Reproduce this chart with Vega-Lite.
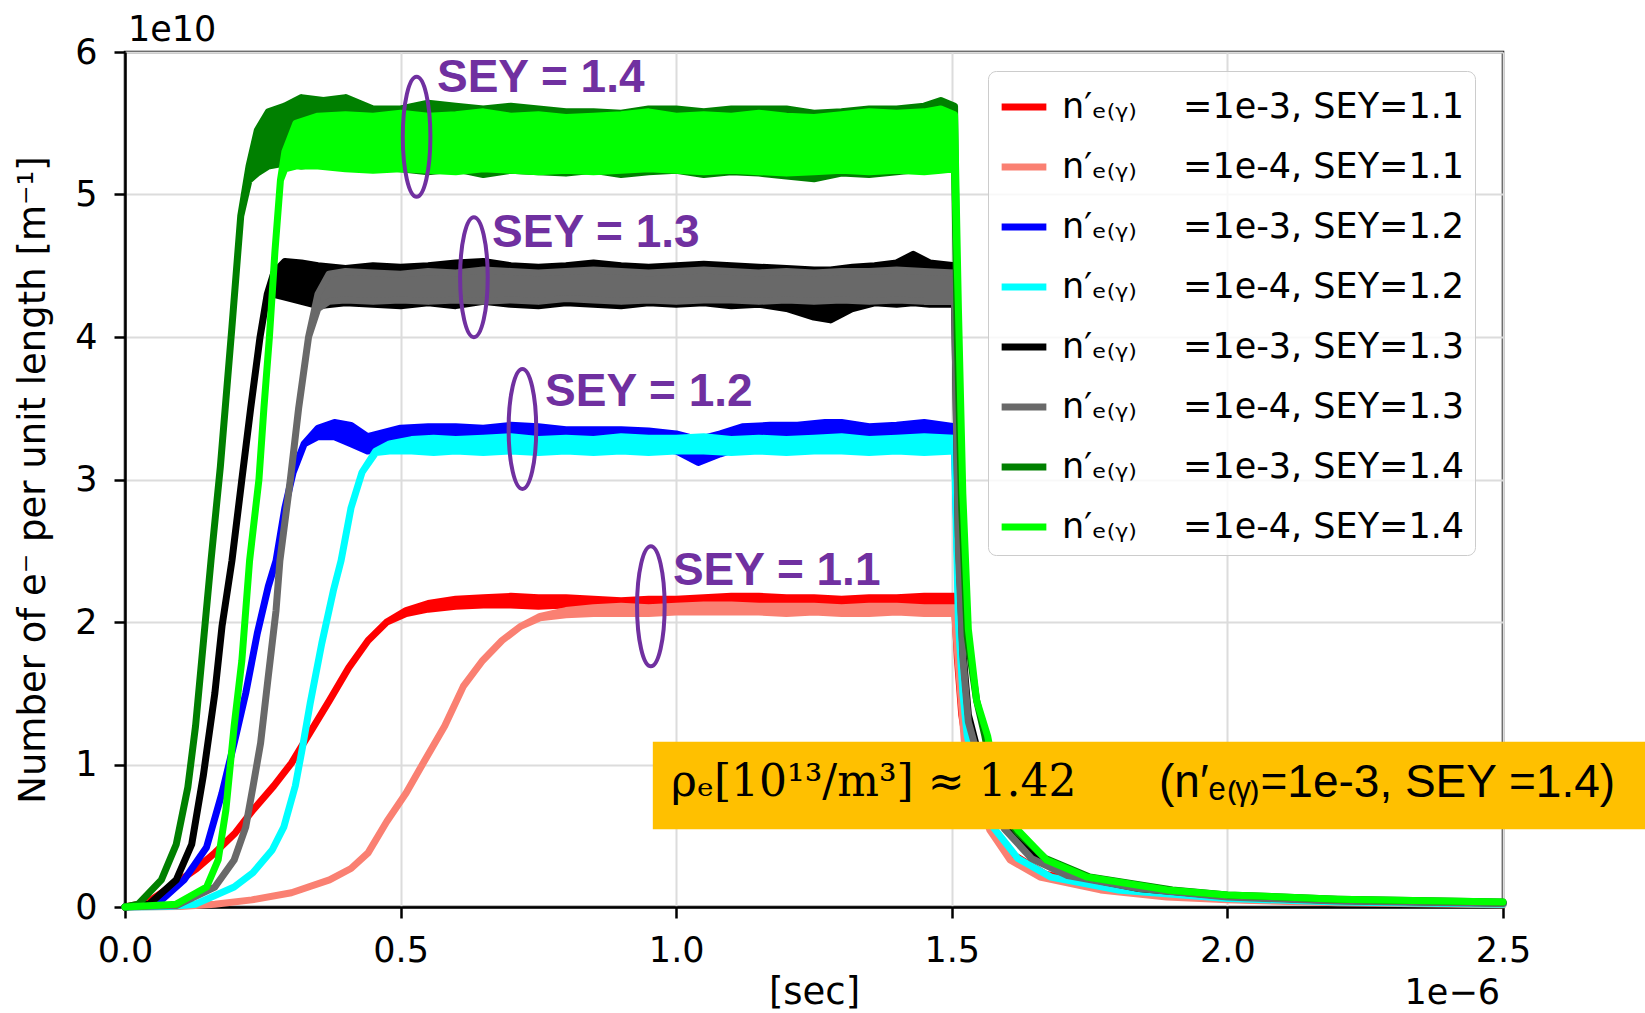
{
  "$schema": "https://vega.github.io/schema/vega-lite/v6.json",
  "autosize": {"type": "none"},
  "width": 1378,
  "height": 855,
  "padding": {"left": 125, "top": 52, "right": 142, "bottom": 106},
  "background": "white",
  "config": {
    "view": {"stroke": "black", "strokeWidth": 2.5},
    "axis": {
      "labelFont": "DejaVu Sans", "labelFontSize": 35, "labelColor": "black",
      "titleFont": "DejaVu Sans", "titleFontSize": 37, "titleFontWeight": "normal", "titleColor": "black",
      "domainColor": "black", "domainWidth": 2.5, "tickColor": "black", "tickWidth": 2.5, "tickSize": 11,
      "gridColor": "#dcdcdc", "gridWidth": 2
    }
  },
  "datasets": {
    "curves": [
      {"s":"1e-3, SEY=1.1","t":0,"lo":0,"hi":0},{"s":"1e-3, SEY=1.1","t":0.04,"lo":0.03,"hi":0.03},{"s":"1e-3, SEY=1.1","t":0.093,"lo":0.17,"hi":0.17},{"s":"1e-3, SEY=1.1","t":0.13,"lo":0.27,"hi":0.27},{"s":"1e-3, SEY=1.1","t":0.163,"lo":0.38,"hi":0.38},{"s":"1e-3, SEY=1.1","t":0.2,"lo":0.52,"hi":0.52},{"s":"1e-3, SEY=1.1","t":0.232,"lo":0.68,"hi":0.68},{"s":"1e-3, SEY=1.1","t":0.27,"lo":0.85,"hi":0.85},{"s":"1e-3, SEY=1.1","t":0.302,"lo":1.01,"hi":1.01},{"s":"1e-3, SEY=1.1","t":0.335,"lo":1.22,"hi":1.22},{"s":"1e-3, SEY=1.1","t":0.371,"lo":1.45,"hi":1.45},{"s":"1e-3, SEY=1.1","t":0.406,"lo":1.68,"hi":1.68},{"s":"1e-3, SEY=1.1","t":0.441,"lo":1.87,"hi":1.87},{"s":"1e-3, SEY=1.1","t":0.475,"lo":2.0,"hi":2.0},{"s":"1e-3, SEY=1.1","t":0.51,"lo":2.06,"hi":2.08},{"s":"1e-3, SEY=1.1","t":0.55,"lo":2.09,"hi":2.13},{"s":"1e-3, SEY=1.1","t":0.6,"lo":2.11,"hi":2.16},{"s":"1e-3, SEY=1.1","t":0.65,"lo":2.12,"hi":2.17},{"s":"1e-3, SEY=1.1","t":0.7,"lo":2.12,"hi":2.18},{"s":"1e-3, SEY=1.1","t":0.75,"lo":2.11,"hi":2.17},{"s":"1e-3, SEY=1.1","t":0.8,"lo":2.12,"hi":2.17},{"s":"1e-3, SEY=1.1","t":0.85,"lo":2.11,"hi":2.16},{"s":"1e-3, SEY=1.1","t":0.9,"lo":2.1,"hi":2.15},{"s":"1e-3, SEY=1.1","t":0.95,"lo":2.1,"hi":2.16},{"s":"1e-3, SEY=1.1","t":1.0,"lo":2.11,"hi":2.16},{"s":"1e-3, SEY=1.1","t":1.05,"lo":2.12,"hi":2.17},{"s":"1e-3, SEY=1.1","t":1.1,"lo":2.12,"hi":2.18},{"s":"1e-3, SEY=1.1","t":1.15,"lo":2.13,"hi":2.18},{"s":"1e-3, SEY=1.1","t":1.2,"lo":2.12,"hi":2.17},{"s":"1e-3, SEY=1.1","t":1.25,"lo":2.12,"hi":2.17},{"s":"1e-3, SEY=1.1","t":1.3,"lo":2.11,"hi":2.16},{"s":"1e-3, SEY=1.1","t":1.35,"lo":2.12,"hi":2.17},{"s":"1e-3, SEY=1.1","t":1.4,"lo":2.11,"hi":2.17},{"s":"1e-3, SEY=1.1","t":1.45,"lo":2.12,"hi":2.18},{"s":"1e-3, SEY=1.1","t":1.505,"lo":2.13,"hi":2.18},{"s":"1e-3, SEY=1.1","t":1.51,"lo":1.75,"hi":1.75},{"s":"1e-3, SEY=1.1","t":1.518,"lo":1.35,"hi":1.35},{"s":"1e-3, SEY=1.1","t":1.53,"lo":1.05,"hi":1.05},{"s":"1e-3, SEY=1.1","t":1.55,"lo":0.8,"hi":0.8},{"s":"1e-3, SEY=1.1","t":1.575,"lo":0.55,"hi":0.55},{"s":"1e-3, SEY=1.1","t":1.61,"lo":0.37,"hi":0.37},{"s":"1e-3, SEY=1.1","t":1.67,"lo":0.23,"hi":0.23},{"s":"1e-3, SEY=1.1","t":1.78,"lo":0.13,"hi":0.13},{"s":"1e-3, SEY=1.1","t":1.9,"lo":0.08,"hi":0.08},{"s":"1e-3, SEY=1.1","t":2.0,"lo":0.055,"hi":0.055},{"s":"1e-3, SEY=1.1","t":2.2,"lo":0.035,"hi":0.035},{"s":"1e-3, SEY=1.1","t":2.5,"lo":0.02,"hi":0.02},

      {"s":"1e-4, SEY=1.1","t":0,"lo":0,"hi":0},{"s":"1e-4, SEY=1.1","t":0.1,"lo":0.003,"hi":0.003},{"s":"1e-4, SEY=1.1","t":0.163,"lo":0.02,"hi":0.02},{"s":"1e-4, SEY=1.1","t":0.23,"lo":0.05,"hi":0.05},{"s":"1e-4, SEY=1.1","t":0.302,"lo":0.1,"hi":0.1},{"s":"1e-4, SEY=1.1","t":0.371,"lo":0.19,"hi":0.19},{"s":"1e-4, SEY=1.1","t":0.41,"lo":0.27,"hi":0.27},{"s":"1e-4, SEY=1.1","t":0.441,"lo":0.38,"hi":0.38},{"s":"1e-4, SEY=1.1","t":0.475,"lo":0.6,"hi":0.6},{"s":"1e-4, SEY=1.1","t":0.51,"lo":0.8,"hi":0.8},{"s":"1e-4, SEY=1.1","t":0.544,"lo":1.03,"hi":1.03},{"s":"1e-4, SEY=1.1","t":0.58,"lo":1.27,"hi":1.27},{"s":"1e-4, SEY=1.1","t":0.614,"lo":1.55,"hi":1.55},{"s":"1e-4, SEY=1.1","t":0.649,"lo":1.73,"hi":1.73},{"s":"1e-4, SEY=1.1","t":0.684,"lo":1.87,"hi":1.87},{"s":"1e-4, SEY=1.1","t":0.718,"lo":1.97,"hi":1.97},{"s":"1e-4, SEY=1.1","t":0.753,"lo":2.03,"hi":2.04},{"s":"1e-4, SEY=1.1","t":0.8,"lo":2.05,"hi":2.08},{"s":"1e-4, SEY=1.1","t":0.85,"lo":2.06,"hi":2.1},{"s":"1e-4, SEY=1.1","t":0.9,"lo":2.06,"hi":2.11},{"s":"1e-4, SEY=1.1","t":0.95,"lo":2.06,"hi":2.1},{"s":"1e-4, SEY=1.1","t":1.0,"lo":2.07,"hi":2.11},{"s":"1e-4, SEY=1.1","t":1.05,"lo":2.07,"hi":2.12},{"s":"1e-4, SEY=1.1","t":1.1,"lo":2.07,"hi":2.12},{"s":"1e-4, SEY=1.1","t":1.15,"lo":2.07,"hi":2.11},{"s":"1e-4, SEY=1.1","t":1.2,"lo":2.06,"hi":2.11},{"s":"1e-4, SEY=1.1","t":1.25,"lo":2.07,"hi":2.11},{"s":"1e-4, SEY=1.1","t":1.3,"lo":2.06,"hi":2.1},{"s":"1e-4, SEY=1.1","t":1.35,"lo":2.06,"hi":2.11},{"s":"1e-4, SEY=1.1","t":1.4,"lo":2.07,"hi":2.11},{"s":"1e-4, SEY=1.1","t":1.45,"lo":2.06,"hi":2.1},{"s":"1e-4, SEY=1.1","t":1.505,"lo":2.06,"hi":2.1},{"s":"1e-4, SEY=1.1","t":1.512,"lo":1.7,"hi":1.7},{"s":"1e-4, SEY=1.1","t":1.518,"lo":1.4,"hi":1.4},{"s":"1e-4, SEY=1.1","t":1.523,"lo":1.15,"hi":1.15},{"s":"1e-4, SEY=1.1","t":1.54,"lo":0.85,"hi":0.85},{"s":"1e-4, SEY=1.1","t":1.569,"lo":0.54,"hi":0.54},{"s":"1e-4, SEY=1.1","t":1.606,"lo":0.33,"hi":0.33},{"s":"1e-4, SEY=1.1","t":1.66,"lo":0.21,"hi":0.21},{"s":"1e-4, SEY=1.1","t":1.77,"lo":0.12,"hi":0.12},{"s":"1e-4, SEY=1.1","t":1.89,"lo":0.07,"hi":0.07},{"s":"1e-4, SEY=1.1","t":2.0,"lo":0.05,"hi":0.05},{"s":"1e-4, SEY=1.1","t":2.2,"lo":0.03,"hi":0.03},{"s":"1e-4, SEY=1.1","t":2.5,"lo":0.015,"hi":0.015},

      {"s":"1e-3, SEY=1.2","t":0,"lo":0,"hi":0},{"s":"1e-3, SEY=1.2","t":0.058,"lo":0.02,"hi":0.02},{"s":"1e-3, SEY=1.2","t":0.107,"lo":0.19,"hi":0.19},{"s":"1e-3, SEY=1.2","t":0.148,"lo":0.42,"hi":0.42},{"s":"1e-3, SEY=1.2","t":0.176,"lo":0.8,"hi":0.8},{"s":"1e-3, SEY=1.2","t":0.198,"lo":1.15,"hi":1.15},{"s":"1e-3, SEY=1.2","t":0.219,"lo":1.5,"hi":1.5},{"s":"1e-3, SEY=1.2","t":0.24,"lo":1.92,"hi":1.92},{"s":"1e-3, SEY=1.2","t":0.26,"lo":2.25,"hi":2.25},{"s":"1e-3, SEY=1.2","t":0.274,"lo":2.43,"hi":2.43},{"s":"1e-3, SEY=1.2","t":0.29,"lo":2.8,"hi":2.8},{"s":"1e-3, SEY=1.2","t":0.305,"lo":3.05,"hi":3.05},{"s":"1e-3, SEY=1.2","t":0.325,"lo":3.25,"hi":3.25},{"s":"1e-3, SEY=1.2","t":0.35,"lo":3.3,"hi":3.36},{"s":"1e-3, SEY=1.2","t":0.38,"lo":3.3,"hi":3.4},{"s":"1e-3, SEY=1.2","t":0.41,"lo":3.25,"hi":3.38},{"s":"1e-3, SEY=1.2","t":0.44,"lo":3.2,"hi":3.3},{"s":"1e-3, SEY=1.2","t":0.47,"lo":3.22,"hi":3.33},{"s":"1e-3, SEY=1.2","t":0.5,"lo":3.24,"hi":3.36},{"s":"1e-3, SEY=1.2","t":0.55,"lo":3.24,"hi":3.37},{"s":"1e-3, SEY=1.2","t":0.6,"lo":3.25,"hi":3.37},{"s":"1e-3, SEY=1.2","t":0.65,"lo":3.24,"hi":3.36},{"s":"1e-3, SEY=1.2","t":0.7,"lo":3.25,"hi":3.38},{"s":"1e-3, SEY=1.2","t":0.75,"lo":3.24,"hi":3.37},{"s":"1e-3, SEY=1.2","t":0.8,"lo":3.24,"hi":3.35},{"s":"1e-3, SEY=1.2","t":0.85,"lo":3.23,"hi":3.35},{"s":"1e-3, SEY=1.2","t":0.9,"lo":3.24,"hi":3.35},{"s":"1e-3, SEY=1.2","t":0.95,"lo":3.23,"hi":3.34},{"s":"1e-3, SEY=1.2","t":1.0,"lo":3.2,"hi":3.32},{"s":"1e-3, SEY=1.2","t":1.04,"lo":3.12,"hi":3.28},{"s":"1e-3, SEY=1.2","t":1.08,"lo":3.18,"hi":3.32},{"s":"1e-3, SEY=1.2","t":1.12,"lo":3.23,"hi":3.37},{"s":"1e-3, SEY=1.2","t":1.17,"lo":3.24,"hi":3.38},{"s":"1e-3, SEY=1.2","t":1.22,"lo":3.25,"hi":3.38},{"s":"1e-3, SEY=1.2","t":1.27,"lo":3.25,"hi":3.4},{"s":"1e-3, SEY=1.2","t":1.3,"lo":3.25,"hi":3.4},{"s":"1e-3, SEY=1.2","t":1.35,"lo":3.24,"hi":3.37},{"s":"1e-3, SEY=1.2","t":1.4,"lo":3.24,"hi":3.38},{"s":"1e-3, SEY=1.2","t":1.45,"lo":3.25,"hi":3.4},{"s":"1e-3, SEY=1.2","t":1.505,"lo":3.25,"hi":3.37},{"s":"1e-3, SEY=1.2","t":1.512,"lo":2.2,"hi":2.2},{"s":"1e-3, SEY=1.2","t":1.52,"lo":1.6,"hi":1.6},{"s":"1e-3, SEY=1.2","t":1.53,"lo":1.3,"hi":1.3},{"s":"1e-3, SEY=1.2","t":1.55,"lo":1.0,"hi":1.0},{"s":"1e-3, SEY=1.2","t":1.6,"lo":0.54,"hi":0.54},{"s":"1e-3, SEY=1.2","t":1.65,"lo":0.34,"hi":0.34},{"s":"1e-3, SEY=1.2","t":1.72,"lo":0.22,"hi":0.22},{"s":"1e-3, SEY=1.2","t":1.84,"lo":0.13,"hi":0.13},{"s":"1e-3, SEY=1.2","t":2.0,"lo":0.075,"hi":0.075},{"s":"1e-3, SEY=1.2","t":2.2,"lo":0.045,"hi":0.045},{"s":"1e-3, SEY=1.2","t":2.5,"lo":0.028,"hi":0.028},

      {"s":"1e-4, SEY=1.2","t":0,"lo":0,"hi":0},{"s":"1e-4, SEY=1.2","t":0.08,"lo":0.003,"hi":0.003},{"s":"1e-4, SEY=1.2","t":0.128,"lo":0.02,"hi":0.02},{"s":"1e-4, SEY=1.2","t":0.198,"lo":0.14,"hi":0.14},{"s":"1e-4, SEY=1.2","t":0.232,"lo":0.24,"hi":0.24},{"s":"1e-4, SEY=1.2","t":0.267,"lo":0.4,"hi":0.4},{"s":"1e-4, SEY=1.2","t":0.288,"lo":0.56,"hi":0.56},{"s":"1e-4, SEY=1.2","t":0.309,"lo":0.85,"hi":0.85},{"s":"1e-4, SEY=1.2","t":0.322,"lo":1.12,"hi":1.12},{"s":"1e-4, SEY=1.2","t":0.336,"lo":1.43,"hi":1.43},{"s":"1e-4, SEY=1.2","t":0.357,"lo":1.85,"hi":1.85},{"s":"1e-4, SEY=1.2","t":0.378,"lo":2.22,"hi":2.22},{"s":"1e-4, SEY=1.2","t":0.392,"lo":2.43,"hi":2.43},{"s":"1e-4, SEY=1.2","t":0.41,"lo":2.8,"hi":2.8},{"s":"1e-4, SEY=1.2","t":0.43,"lo":3.05,"hi":3.05},{"s":"1e-4, SEY=1.2","t":0.455,"lo":3.19,"hi":3.2},{"s":"1e-4, SEY=1.2","t":0.48,"lo":3.2,"hi":3.25},{"s":"1e-4, SEY=1.2","t":0.52,"lo":3.2,"hi":3.28},{"s":"1e-4, SEY=1.2","t":0.56,"lo":3.19,"hi":3.29},{"s":"1e-4, SEY=1.2","t":0.6,"lo":3.2,"hi":3.28},{"s":"1e-4, SEY=1.2","t":0.65,"lo":3.19,"hi":3.29},{"s":"1e-4, SEY=1.2","t":0.7,"lo":3.2,"hi":3.3},{"s":"1e-4, SEY=1.2","t":0.75,"lo":3.19,"hi":3.28},{"s":"1e-4, SEY=1.2","t":0.8,"lo":3.2,"hi":3.29},{"s":"1e-4, SEY=1.2","t":0.85,"lo":3.19,"hi":3.28},{"s":"1e-4, SEY=1.2","t":0.9,"lo":3.2,"hi":3.3},{"s":"1e-4, SEY=1.2","t":0.95,"lo":3.19,"hi":3.29},{"s":"1e-4, SEY=1.2","t":1.0,"lo":3.2,"hi":3.29},{"s":"1e-4, SEY=1.2","t":1.05,"lo":3.2,"hi":3.3},{"s":"1e-4, SEY=1.2","t":1.1,"lo":3.19,"hi":3.28},{"s":"1e-4, SEY=1.2","t":1.15,"lo":3.2,"hi":3.29},{"s":"1e-4, SEY=1.2","t":1.2,"lo":3.19,"hi":3.28},{"s":"1e-4, SEY=1.2","t":1.25,"lo":3.2,"hi":3.29},{"s":"1e-4, SEY=1.2","t":1.3,"lo":3.2,"hi":3.3},{"s":"1e-4, SEY=1.2","t":1.35,"lo":3.19,"hi":3.28},{"s":"1e-4, SEY=1.2","t":1.4,"lo":3.2,"hi":3.29},{"s":"1e-4, SEY=1.2","t":1.45,"lo":3.19,"hi":3.3},{"s":"1e-4, SEY=1.2","t":1.505,"lo":3.2,"hi":3.29},{"s":"1e-4, SEY=1.2","t":1.512,"lo":2.0,"hi":2.0},{"s":"1e-4, SEY=1.2","t":1.52,"lo":1.5,"hi":1.5},{"s":"1e-4, SEY=1.2","t":1.528,"lo":1.2,"hi":1.2},{"s":"1e-4, SEY=1.2","t":1.55,"lo":0.85,"hi":0.85},{"s":"1e-4, SEY=1.2","t":1.575,"lo":0.56,"hi":0.56},{"s":"1e-4, SEY=1.2","t":1.62,"lo":0.34,"hi":0.34},{"s":"1e-4, SEY=1.2","t":1.68,"lo":0.21,"hi":0.21},{"s":"1e-4, SEY=1.2","t":1.8,"lo":0.12,"hi":0.12},{"s":"1e-4, SEY=1.2","t":2.0,"lo":0.06,"hi":0.06},{"s":"1e-4, SEY=1.2","t":2.2,"lo":0.035,"hi":0.035},{"s":"1e-4, SEY=1.2","t":2.5,"lo":0.02,"hi":0.02},

      {"s":"1e-3, SEY=1.3","t":0,"lo":0,"hi":0},{"s":"1e-3, SEY=1.3","t":0.044,"lo":0.02,"hi":0.02},{"s":"1e-3, SEY=1.3","t":0.093,"lo":0.19,"hi":0.19},{"s":"1e-3, SEY=1.3","t":0.121,"lo":0.44,"hi":0.44},{"s":"1e-3, SEY=1.3","t":0.142,"lo":0.92,"hi":0.92},{"s":"1e-3, SEY=1.3","t":0.163,"lo":1.5,"hi":1.5},{"s":"1e-3, SEY=1.3","t":0.176,"lo":1.97,"hi":1.97},{"s":"1e-3, SEY=1.3","t":0.194,"lo":2.43,"hi":2.43},{"s":"1e-3, SEY=1.3","t":0.212,"lo":3.0,"hi":3.0},{"s":"1e-3, SEY=1.3","t":0.228,"lo":3.5,"hi":3.5},{"s":"1e-3, SEY=1.3","t":0.245,"lo":4.0,"hi":4.0},{"s":"1e-3, SEY=1.3","t":0.258,"lo":4.3,"hi":4.3},{"s":"1e-3, SEY=1.3","t":0.27,"lo":4.3,"hi":4.45},{"s":"1e-3, SEY=1.3","t":0.29,"lo":4.28,"hi":4.53},{"s":"1e-3, SEY=1.3","t":0.32,"lo":4.25,"hi":4.52},{"s":"1e-3, SEY=1.3","t":0.35,"lo":4.22,"hi":4.5},{"s":"1e-3, SEY=1.3","t":0.4,"lo":4.24,"hi":4.48},{"s":"1e-3, SEY=1.3","t":0.45,"lo":4.23,"hi":4.5},{"s":"1e-3, SEY=1.3","t":0.5,"lo":4.22,"hi":4.49},{"s":"1e-3, SEY=1.3","t":0.55,"lo":4.24,"hi":4.5},{"s":"1e-3, SEY=1.3","t":0.6,"lo":4.22,"hi":4.52},{"s":"1e-3, SEY=1.3","t":0.65,"lo":4.25,"hi":4.53},{"s":"1e-3, SEY=1.3","t":0.7,"lo":4.23,"hi":4.5},{"s":"1e-3, SEY=1.3","t":0.75,"lo":4.22,"hi":4.49},{"s":"1e-3, SEY=1.3","t":0.8,"lo":4.24,"hi":4.5},{"s":"1e-3, SEY=1.3","t":0.85,"lo":4.23,"hi":4.52},{"s":"1e-3, SEY=1.3","t":0.9,"lo":4.22,"hi":4.5},{"s":"1e-3, SEY=1.3","t":0.95,"lo":4.24,"hi":4.49},{"s":"1e-3, SEY=1.3","t":1.0,"lo":4.23,"hi":4.5},{"s":"1e-3, SEY=1.3","t":1.05,"lo":4.24,"hi":4.51},{"s":"1e-3, SEY=1.3","t":1.1,"lo":4.22,"hi":4.5},{"s":"1e-3, SEY=1.3","t":1.15,"lo":4.23,"hi":4.49},{"s":"1e-3, SEY=1.3","t":1.2,"lo":4.2,"hi":4.48},{"s":"1e-3, SEY=1.3","t":1.25,"lo":4.14,"hi":4.47},{"s":"1e-3, SEY=1.3","t":1.28,"lo":4.12,"hi":4.47},{"s":"1e-3, SEY=1.3","t":1.32,"lo":4.2,"hi":4.49},{"s":"1e-3, SEY=1.3","t":1.36,"lo":4.24,"hi":4.5},{"s":"1e-3, SEY=1.3","t":1.4,"lo":4.23,"hi":4.52},{"s":"1e-3, SEY=1.3","t":1.43,"lo":4.24,"hi":4.58},{"s":"1e-3, SEY=1.3","t":1.46,"lo":4.23,"hi":4.52},{"s":"1e-3, SEY=1.3","t":1.505,"lo":4.23,"hi":4.5},{"s":"1e-3, SEY=1.3","t":1.512,"lo":2.6,"hi":2.6},{"s":"1e-3, SEY=1.3","t":1.52,"lo":1.8,"hi":1.8},{"s":"1e-3, SEY=1.3","t":1.53,"lo":1.35,"hi":1.35},{"s":"1e-3, SEY=1.3","t":1.55,"lo":1.05,"hi":1.05},{"s":"1e-3, SEY=1.3","t":1.6,"lo":0.55,"hi":0.55},{"s":"1e-3, SEY=1.3","t":1.65,"lo":0.35,"hi":0.35},{"s":"1e-3, SEY=1.3","t":1.72,"lo":0.22,"hi":0.22},{"s":"1e-3, SEY=1.3","t":1.84,"lo":0.13,"hi":0.13},{"s":"1e-3, SEY=1.3","t":2.0,"lo":0.075,"hi":0.075},{"s":"1e-3, SEY=1.3","t":2.2,"lo":0.045,"hi":0.045},{"s":"1e-3, SEY=1.3","t":2.5,"lo":0.028,"hi":0.028},

      {"s":"1e-4, SEY=1.3","t":0,"lo":0,"hi":0},{"s":"1e-4, SEY=1.3","t":0.093,"lo":0.01,"hi":0.01},{"s":"1e-4, SEY=1.3","t":0.163,"lo":0.14,"hi":0.14},{"s":"1e-4, SEY=1.3","t":0.198,"lo":0.33,"hi":0.33},{"s":"1e-4, SEY=1.3","t":0.219,"lo":0.56,"hi":0.56},{"s":"1e-4, SEY=1.3","t":0.232,"lo":0.84,"hi":0.84},{"s":"1e-4, SEY=1.3","t":0.246,"lo":1.15,"hi":1.15},{"s":"1e-4, SEY=1.3","t":0.26,"lo":1.62,"hi":1.62},{"s":"1e-4, SEY=1.3","t":0.274,"lo":2.08,"hi":2.08},{"s":"1e-4, SEY=1.3","t":0.281,"lo":2.43,"hi":2.43},{"s":"1e-4, SEY=1.3","t":0.3,"lo":3.0,"hi":3.0},{"s":"1e-4, SEY=1.3","t":0.315,"lo":3.5,"hi":3.5},{"s":"1e-4, SEY=1.3","t":0.333,"lo":4.0,"hi":4.0},{"s":"1e-4, SEY=1.3","t":0.35,"lo":4.2,"hi":4.3},{"s":"1e-4, SEY=1.3","t":0.37,"lo":4.25,"hi":4.44},{"s":"1e-4, SEY=1.3","t":0.4,"lo":4.26,"hi":4.46},{"s":"1e-4, SEY=1.3","t":0.45,"lo":4.25,"hi":4.45},{"s":"1e-4, SEY=1.3","t":0.5,"lo":4.26,"hi":4.44},{"s":"1e-4, SEY=1.3","t":0.55,"lo":4.25,"hi":4.46},{"s":"1e-4, SEY=1.3","t":0.6,"lo":4.26,"hi":4.45},{"s":"1e-4, SEY=1.3","t":0.65,"lo":4.25,"hi":4.47},{"s":"1e-4, SEY=1.3","t":0.7,"lo":4.26,"hi":4.46},{"s":"1e-4, SEY=1.3","t":0.75,"lo":4.25,"hi":4.45},{"s":"1e-4, SEY=1.3","t":0.8,"lo":4.27,"hi":4.46},{"s":"1e-4, SEY=1.3","t":0.85,"lo":4.26,"hi":4.47},{"s":"1e-4, SEY=1.3","t":0.9,"lo":4.25,"hi":4.46},{"s":"1e-4, SEY=1.3","t":0.95,"lo":4.26,"hi":4.45},{"s":"1e-4, SEY=1.3","t":1.0,"lo":4.25,"hi":4.46},{"s":"1e-4, SEY=1.3","t":1.05,"lo":4.26,"hi":4.47},{"s":"1e-4, SEY=1.3","t":1.1,"lo":4.26,"hi":4.46},{"s":"1e-4, SEY=1.3","t":1.15,"lo":4.25,"hi":4.45},{"s":"1e-4, SEY=1.3","t":1.2,"lo":4.26,"hi":4.46},{"s":"1e-4, SEY=1.3","t":1.25,"lo":4.25,"hi":4.45},{"s":"1e-4, SEY=1.3","t":1.3,"lo":4.26,"hi":4.46},{"s":"1e-4, SEY=1.3","t":1.35,"lo":4.25,"hi":4.46},{"s":"1e-4, SEY=1.3","t":1.4,"lo":4.26,"hi":4.47},{"s":"1e-4, SEY=1.3","t":1.45,"lo":4.25,"hi":4.46},{"s":"1e-4, SEY=1.3","t":1.505,"lo":4.25,"hi":4.45},{"s":"1e-4, SEY=1.3","t":1.512,"lo":2.5,"hi":2.5},{"s":"1e-4, SEY=1.3","t":1.52,"lo":1.75,"hi":1.75},{"s":"1e-4, SEY=1.3","t":1.53,"lo":1.3,"hi":1.3},{"s":"1e-4, SEY=1.3","t":1.55,"lo":1.02,"hi":1.02},{"s":"1e-4, SEY=1.3","t":1.595,"lo":0.55,"hi":0.55},{"s":"1e-4, SEY=1.3","t":1.645,"lo":0.34,"hi":0.34},{"s":"1e-4, SEY=1.3","t":1.71,"lo":0.22,"hi":0.22},{"s":"1e-4, SEY=1.3","t":1.84,"lo":0.13,"hi":0.13},{"s":"1e-4, SEY=1.3","t":2.0,"lo":0.07,"hi":0.07},{"s":"1e-4, SEY=1.3","t":2.2,"lo":0.042,"hi":0.042},{"s":"1e-4, SEY=1.3","t":2.5,"lo":0.025,"hi":0.025},

      {"s":"1e-3, SEY=1.4","t":0,"lo":0,"hi":0},{"s":"1e-3, SEY=1.4","t":0.024,"lo":0.02,"hi":0.02},{"s":"1e-3, SEY=1.4","t":0.066,"lo":0.19,"hi":0.19},{"s":"1e-3, SEY=1.4","t":0.093,"lo":0.44,"hi":0.44},{"s":"1e-3, SEY=1.4","t":0.114,"lo":0.84,"hi":0.84},{"s":"1e-3, SEY=1.4","t":0.128,"lo":1.27,"hi":1.27},{"s":"1e-3, SEY=1.4","t":0.142,"lo":1.85,"hi":1.85},{"s":"1e-3, SEY=1.4","t":0.156,"lo":2.43,"hi":2.43},{"s":"1e-3, SEY=1.4","t":0.173,"lo":3.09,"hi":3.09},{"s":"1e-3, SEY=1.4","t":0.194,"lo":4.07,"hi":4.07},{"s":"1e-3, SEY=1.4","t":0.21,"lo":4.85,"hi":4.85},{"s":"1e-3, SEY=1.4","t":0.225,"lo":5.1,"hi":5.2},{"s":"1e-3, SEY=1.4","t":0.24,"lo":5.15,"hi":5.45},{"s":"1e-3, SEY=1.4","t":0.26,"lo":5.2,"hi":5.58},{"s":"1e-3, SEY=1.4","t":0.29,"lo":5.22,"hi":5.62},{"s":"1e-3, SEY=1.4","t":0.32,"lo":5.2,"hi":5.68},{"s":"1e-3, SEY=1.4","t":0.36,"lo":5.22,"hi":5.66},{"s":"1e-3, SEY=1.4","t":0.4,"lo":5.2,"hi":5.68},{"s":"1e-3, SEY=1.4","t":0.45,"lo":5.2,"hi":5.6},{"s":"1e-3, SEY=1.4","t":0.5,"lo":5.18,"hi":5.6},{"s":"1e-3, SEY=1.4","t":0.55,"lo":5.16,"hi":5.64},{"s":"1e-3, SEY=1.4","t":0.6,"lo":5.18,"hi":5.62},{"s":"1e-3, SEY=1.4","t":0.65,"lo":5.14,"hi":5.6},{"s":"1e-3, SEY=1.4","t":0.7,"lo":5.17,"hi":5.62},{"s":"1e-3, SEY=1.4","t":0.75,"lo":5.16,"hi":5.6},{"s":"1e-3, SEY=1.4","t":0.8,"lo":5.15,"hi":5.58},{"s":"1e-3, SEY=1.4","t":0.85,"lo":5.17,"hi":5.58},{"s":"1e-3, SEY=1.4","t":0.9,"lo":5.14,"hi":5.57},{"s":"1e-3, SEY=1.4","t":0.95,"lo":5.16,"hi":5.6},{"s":"1e-3, SEY=1.4","t":1.0,"lo":5.17,"hi":5.6},{"s":"1e-3, SEY=1.4","t":1.05,"lo":5.14,"hi":5.58},{"s":"1e-3, SEY=1.4","t":1.1,"lo":5.16,"hi":5.6},{"s":"1e-3, SEY=1.4","t":1.15,"lo":5.15,"hi":5.6},{"s":"1e-3, SEY=1.4","t":1.2,"lo":5.13,"hi":5.6},{"s":"1e-3, SEY=1.4","t":1.25,"lo":5.11,"hi":5.57},{"s":"1e-3, SEY=1.4","t":1.3,"lo":5.15,"hi":5.58},{"s":"1e-3, SEY=1.4","t":1.35,"lo":5.14,"hi":5.6},{"s":"1e-3, SEY=1.4","t":1.4,"lo":5.16,"hi":5.6},{"s":"1e-3, SEY=1.4","t":1.45,"lo":5.18,"hi":5.62},{"s":"1e-3, SEY=1.4","t":1.48,"lo":5.2,"hi":5.66},{"s":"1e-3, SEY=1.4","t":1.505,"lo":5.2,"hi":5.62},{"s":"1e-3, SEY=1.4","t":1.51,"lo":4.0,"hi":4.0},{"s":"1e-3, SEY=1.4","t":1.518,"lo":2.8,"hi":2.8},{"s":"1e-3, SEY=1.4","t":1.528,"lo":1.9,"hi":1.9},{"s":"1e-3, SEY=1.4","t":1.545,"lo":1.45,"hi":1.45},{"s":"1e-3, SEY=1.4","t":1.56,"lo":1.2,"hi":1.2},{"s":"1e-3, SEY=1.4","t":1.58,"lo":0.8,"hi":0.8},{"s":"1e-3, SEY=1.4","t":1.6,"lo":0.62,"hi":0.62},{"s":"1e-3, SEY=1.4","t":1.62,"lo":0.52,"hi":0.52},{"s":"1e-3, SEY=1.4","t":1.67,"lo":0.34,"hi":0.34},{"s":"1e-3, SEY=1.4","t":1.75,"lo":0.21,"hi":0.21},{"s":"1e-3, SEY=1.4","t":1.9,"lo":0.12,"hi":0.12},{"s":"1e-3, SEY=1.4","t":2.0,"lo":0.085,"hi":0.085},{"s":"1e-3, SEY=1.4","t":2.2,"lo":0.055,"hi":0.055},{"s":"1e-3, SEY=1.4","t":2.5,"lo":0.035,"hi":0.035},

      {"s":"1e-4, SEY=1.4","t":0,"lo":0,"hi":0},{"s":"1e-4, SEY=1.4","t":0.093,"lo":0.02,"hi":0.02},{"s":"1e-4, SEY=1.4","t":0.148,"lo":0.14,"hi":0.14},{"s":"1e-4, SEY=1.4","t":0.169,"lo":0.33,"hi":0.33},{"s":"1e-4, SEY=1.4","t":0.183,"lo":0.68,"hi":0.68},{"s":"1e-4, SEY=1.4","t":0.198,"lo":1.27,"hi":1.27},{"s":"1e-4, SEY=1.4","t":0.212,"lo":1.73,"hi":1.73},{"s":"1e-4, SEY=1.4","t":0.226,"lo":2.43,"hi":2.43},{"s":"1e-4, SEY=1.4","t":0.243,"lo":3.0,"hi":3.0},{"s":"1e-4, SEY=1.4","t":0.252,"lo":3.5,"hi":3.5},{"s":"1e-4, SEY=1.4","t":0.262,"lo":4.0,"hi":4.0},{"s":"1e-4, SEY=1.4","t":0.272,"lo":4.6,"hi":4.6},{"s":"1e-4, SEY=1.4","t":0.282,"lo":5.1,"hi":5.1},{"s":"1e-4, SEY=1.4","t":0.29,"lo":5.18,"hi":5.3},{"s":"1e-4, SEY=1.4","t":0.31,"lo":5.2,"hi":5.5},{"s":"1e-4, SEY=1.4","t":0.35,"lo":5.2,"hi":5.55},{"s":"1e-4, SEY=1.4","t":0.4,"lo":5.18,"hi":5.56},{"s":"1e-4, SEY=1.4","t":0.45,"lo":5.17,"hi":5.55},{"s":"1e-4, SEY=1.4","t":0.5,"lo":5.18,"hi":5.57},{"s":"1e-4, SEY=1.4","t":0.55,"lo":5.17,"hi":5.55},{"s":"1e-4, SEY=1.4","t":0.6,"lo":5.16,"hi":5.56},{"s":"1e-4, SEY=1.4","t":0.65,"lo":5.18,"hi":5.58},{"s":"1e-4, SEY=1.4","t":0.7,"lo":5.17,"hi":5.55},{"s":"1e-4, SEY=1.4","t":0.75,"lo":5.16,"hi":5.56},{"s":"1e-4, SEY=1.4","t":0.8,"lo":5.17,"hi":5.54},{"s":"1e-4, SEY=1.4","t":0.85,"lo":5.16,"hi":5.55},{"s":"1e-4, SEY=1.4","t":0.9,"lo":5.17,"hi":5.56},{"s":"1e-4, SEY=1.4","t":0.95,"lo":5.18,"hi":5.58},{"s":"1e-4, SEY=1.4","t":1.0,"lo":5.17,"hi":5.55},{"s":"1e-4, SEY=1.4","t":1.05,"lo":5.16,"hi":5.56},{"s":"1e-4, SEY=1.4","t":1.1,"lo":5.17,"hi":5.55},{"s":"1e-4, SEY=1.4","t":1.15,"lo":5.16,"hi":5.57},{"s":"1e-4, SEY=1.4","t":1.2,"lo":5.15,"hi":5.55},{"s":"1e-4, SEY=1.4","t":1.25,"lo":5.16,"hi":5.54},{"s":"1e-4, SEY=1.4","t":1.3,"lo":5.17,"hi":5.56},{"s":"1e-4, SEY=1.4","t":1.35,"lo":5.16,"hi":5.58},{"s":"1e-4, SEY=1.4","t":1.4,"lo":5.17,"hi":5.57},{"s":"1e-4, SEY=1.4","t":1.45,"lo":5.16,"hi":5.58},{"s":"1e-4, SEY=1.4","t":1.48,"lo":5.17,"hi":5.6},{"s":"1e-4, SEY=1.4","t":1.505,"lo":5.18,"hi":5.56},{"s":"1e-4, SEY=1.4","t":1.512,"lo":4.2,"hi":4.2},{"s":"1e-4, SEY=1.4","t":1.52,"lo":2.9,"hi":2.9},{"s":"1e-4, SEY=1.4","t":1.53,"lo":1.95,"hi":1.95},{"s":"1e-4, SEY=1.4","t":1.545,"lo":1.45,"hi":1.45},{"s":"1e-4, SEY=1.4","t":1.565,"lo":1.2,"hi":1.2},{"s":"1e-4, SEY=1.4","t":1.585,"lo":0.8,"hi":0.8},{"s":"1e-4, SEY=1.4","t":1.6,"lo":0.65,"hi":0.65},{"s":"1e-4, SEY=1.4","t":1.62,"lo":0.54,"hi":0.54},{"s":"1e-4, SEY=1.4","t":1.672,"lo":0.33,"hi":0.33},{"s":"1e-4, SEY=1.4","t":1.745,"lo":0.21,"hi":0.21},{"s":"1e-4, SEY=1.4","t":1.89,"lo":0.12,"hi":0.12},{"s":"1e-4, SEY=1.4","t":2.0,"lo":0.085,"hi":0.085},{"s":"1e-4, SEY=1.4","t":2.2,"lo":0.055,"hi":0.055},{"s":"1e-4, SEY=1.4","t":2.5,"lo":0.035,"hi":0.035}
    ],
    "ellipses": [
      {"t": 0.529, "v": 5.405},
      {"t": 0.633, "v": 4.42},
      {"t": 0.721, "v": 3.355},
      {"t": 0.954, "v": 2.11}
    ],
    "seyLabels": [
      {"t": 0.566, "v": 5.72, "label": "SEY = 1.4"},
      {"t": 0.666, "v": 4.63, "label": "SEY = 1.3"},
      {"t": 0.762, "v": 3.516, "label": "SEY = 1.2"},
      {"t": 0.994, "v": 2.26, "label": "SEY = 1.1"}
    ],
    "box": [{"t": 0.9576, "t2": 2.76, "v": 0.545, "v2": 1.16}]
  },
  "layer": [
    {
      "data": {"name": "curves"},
      "mark": {"type": "area", "strokeWidth": 7, "strokeJoin": "round", "strokeCap": "round", "opacity": 1},
      "encoding": {
        "x": {"field": "t", "type": "quantitative",
          "scale": {"domain": [0, 2.5], "nice": false, "zero": false},
          "axis": {"values": [0, 0.5, 1, 1.5, 2, 2.5], "format": ".1f", "title": "[sec]", "labelPadding": 15, "titlePadding": 6, "labelFlush": false}},
        "y": {"field": "hi", "type": "quantitative",
          "scale": {"domain": [0, 6], "nice": false},
          "axis": {"values": [0, 1, 2, 3, 4, 5, 6], "format": "d", "title": "Number of e⁻  per unit length [m⁻¹]", "labelPadding": 17, "titlePadding": 22}},
        "y2": {"field": "lo"},
        "fill": {"field": "s", "type": "nominal",
          "scale": {"domain": ["1e-3, SEY=1.1","1e-4, SEY=1.1","1e-3, SEY=1.2","1e-4, SEY=1.2","1e-3, SEY=1.3","1e-4, SEY=1.3","1e-3, SEY=1.4","1e-4, SEY=1.4"],
                    "range": ["#ff0000","#fa8072","#0000ff","#00ffff","#000000","#696969","#008000","#00ff00"]},
          "legend": {"orient": "none", "legendX": 863, "legendY": 19, "title": null, "symbolType": "stroke", "symbolSize": 2000, "symbolStrokeWidth": 7,
                     "labelFont": "DejaVu Sans", "labelFontSize": 35, "labelColor": "black", "labelLimit": 700, "labelOffset": 12,
                     "rowPadding": 16, "padding": 10, "fillColor": "rgba(255,255,255,0.8)", "strokeColor": "#cccccc", "cornerRadius": 8,
                     "labelExpr": "'n′ₑ₍ᵧ₎\u2003 =' + datum.label"}},
        "stroke": {"field": "s", "type": "nominal",
          "scale": {"domain": ["1e-3, SEY=1.1","1e-4, SEY=1.1","1e-3, SEY=1.2","1e-4, SEY=1.2","1e-3, SEY=1.3","1e-4, SEY=1.3","1e-3, SEY=1.4","1e-4, SEY=1.4"],
                    "range": ["#ff0000","#fa8072","#0000ff","#00ffff","#000000","#696969","#008000","#00ff00"]},
          "legend": {"orient": "none", "legendX": 863, "legendY": 19, "title": null, "symbolType": "stroke", "symbolSize": 2000, "symbolStrokeWidth": 7,
                     "labelFont": "DejaVu Sans", "labelFontSize": 35, "labelColor": "black", "labelLimit": 700, "labelOffset": 12,
                     "rowPadding": 16, "padding": 10, "fillColor": "rgba(255,255,255,0.8)", "strokeColor": "#cccccc", "cornerRadius": 8,
                     "labelExpr": "'n′ₑ₍ᵧ₎\u2003 =' + datum.label"}}
      }
    },
    {
      "data": {"name": "box"},
      "mark": {"type": "rect", "fill": "#ffc000"},
      "encoding": {
        "x": {"field": "t", "type": "quantitative"},
        "x2": {"field": "t2"},
        "y": {"field": "v", "type": "quantitative"},
        "y2": {"field": "v2"}
      }
    },
    {
      "data": {"values": [{"t": 0.9906, "v": 0.87, "label": "ρₑ[10¹³/m³] ≈ 1.42"}]},
      "mark": {"type": "text", "font": "DejaVu Serif", "fontSize": 44, "align": "left", "baseline": "middle", "color": "black"},
      "encoding": {"x": {"field": "t", "type": "quantitative"}, "y": {"field": "v", "type": "quantitative"}, "text": {"field": "label"}}
    },
    {
      "data": {"values": [{"t": 1.876, "v": 0.87, "label": "(n′ₑ₍ᵧ₎=1e-3, SEY =1.4)"}]},
      "mark": {"type": "text", "font": "Liberation Sans", "fontSize": 46, "align": "left", "baseline": "middle", "color": "black"},
      "encoding": {"x": {"field": "t", "type": "quantitative"}, "y": {"field": "v", "type": "quantitative"}, "text": {"field": "label"}}
    },
    {
      "data": {"name": "ellipses"},
      "mark": {"type": "point", "shape": "M 0 -1 A 0.23 1 0 1 0 0 1 A 0.23 1 0 1 0 0 -1 Z", "size": 14400, "filled": false, "stroke": "#7030a0", "strokeWidth": 4, "opacity": 1},
      "encoding": {"x": {"field": "t", "type": "quantitative"}, "y": {"field": "v", "type": "quantitative"}}
    },
    {
      "data": {"name": "seyLabels"},
      "mark": {"type": "text", "font": "Liberation Sans", "fontWeight": "bold", "fontSize": 46, "align": "left", "baseline": "alphabetic", "color": "#7030a0"},
      "encoding": {"x": {"field": "t", "type": "quantitative"}, "y": {"field": "v", "type": "quantitative"}, "text": {"field": "label"}}
    },
    {
      "data": {"values": [{"t": 0, "v": 6, "label": "1e10"}]},
      "mark": {"type": "text", "font": "DejaVu Sans", "fontSize": 35, "align": "left", "baseline": "alphabetic", "dx": 3, "dy": -11, "color": "black"},
      "encoding": {"x": {"field": "t", "type": "quantitative"}, "y": {"field": "v", "type": "quantitative"}, "text": {"field": "label"}}
    },
    {
      "data": {"values": [{"t": 2.5, "v": 0, "label": "1e−6"}]},
      "mark": {"type": "text", "font": "DejaVu Sans", "fontSize": 35, "align": "right", "baseline": "alphabetic", "dx": -3, "dy": 97, "color": "black"},
      "encoding": {"x": {"field": "t", "type": "quantitative"}, "y": {"field": "v", "type": "quantitative"}, "text": {"field": "label"}}
    }
  ]
}
